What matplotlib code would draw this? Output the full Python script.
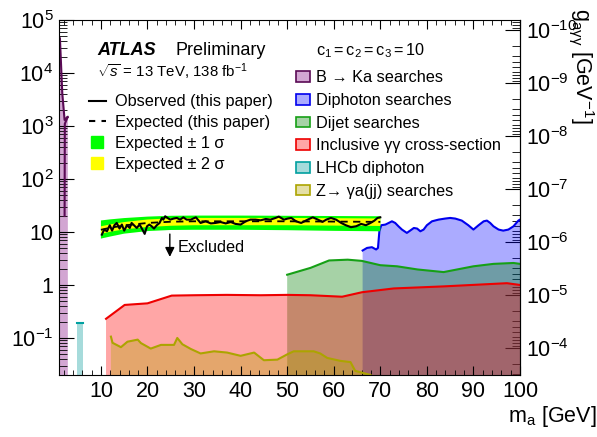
import matplotlib
matplotlib.use('Agg')
import matplotlib.pyplot as plt
from matplotlib.lines import Line2D
from matplotlib.patches import Patch
from matplotlib.ticker import FixedLocator, FixedFormatter, MultipleLocator, LogLocator

plt.rcParams['font.family'] = ['Liberation Sans', 'DejaVu Sans']
plt.rcParams['mathtext.fontset'] = 'custom'
plt.rcParams['mathtext.rm'] = 'Liberation Sans'
plt.rcParams['mathtext.it'] = 'Liberation Sans:italic'
plt.rcParams['mathtext.bf'] = 'Liberation Sans:bold'

# expected limit with +-1 / +-2 sigma bands (this paper)
m_band = [10, 12, 15, 20, 25, 30, 40, 50, 60, 70]
exp_lim = [11.0, 12.0, 13.3, 14.8, 15.6, 15.9, 15.9, 15.9, 15.7, 15.5]
band1_hi = [16.5, 17.3, 18.3, 19.5, 20.2, 20.4, 20.4, 20.2, 20.0, 19.8]
band1_lo = [7.5, 8.2, 9.3, 10.4, 10.9, 11.0, 11.0, 10.8, 10.5, 10.3]
band2_hi = [12.8, 13.9, 15.4, 17.2, 18.1, 18.4, 18.4, 18.4, 18.2, 18.0]
band2_lo = [9.2, 10.1, 11.2, 12.4, 13.1, 13.4, 13.4, 13.4, 13.2, 13.0]

# observed limit (this paper)
m_obs = [10.2, 10.7, 11.3, 11.9, 12.4, 12.9, 13.4, 14.0, 14.5, 15.0,
         15.6, 16.2, 16.6, 17.1, 17.7, 18.3, 18.8, 19.4, 19.9, 20.4,
         20.9, 21.4, 22.0, 22.6, 23.1, 23.4, 23.8, 24.3, 24.9, 25.6,
         26.3, 27.0, 27.7, 28.4,
         29.3, 30.4, 31.4, 32.5, 33.6, 34.6, 35.7, 36.8, 37.9, 38.9,
         40.0, 41.1, 42.1, 43.2, 44.3, 45.4, 46.4, 47.5, 48.2, 49.3,
         50.1, 50.9, 51.9, 53.0, 53.7, 54.4, 55.5, 56.6, 57.6, 58.4,
         59.4, 60.5, 61.6, 62.6, 63.7, 64.8, 65.9, 66.9, 67.9, 68.7,
         69.4, 70.0]
obs_lim = [8.9, 11.1, 10.3, 13.4, 10.6, 13.4, 14.8, 11.6, 13.8, 10.6,
           13.4, 11.9, 14.8, 13.4, 11.9, 13.8, 11.6, 9.2, 12.8, 13.8,
           12.8, 11.6, 13.4, 14.8, 18.4, 17.1, 19.8, 18.4, 17.1, 17.9,
           18.4, 17.1, 18.9, 17.1,
           17.1, 18.9, 14.8, 15.9, 14.5, 14.8, 15.4, 14.5, 15.4, 14.2,
           13.8, 15.9, 17.1, 17.1, 16.6, 17.6, 17.1, 18.4, 19.5, 17.1,
           17.9, 18.4, 15.9, 14.8, 15.9, 17.1, 18.9, 17.1, 15.5, 17.1,
           18.4, 17.1, 14.8, 13.4, 12.3, 12.8, 14.2, 13.4, 14.8, 16.3,
           18.4, 18.9]

# other searches
bka_m = [1.0, 1.2, 1.7, 2.2, 2.9]
bka_lim = [4.5e4, 4.5e4, 4.2e3, 1.3e3, 1.5e3]
bka_line_m = [1.2, 1.7, 2.2, 2.9, 2.25, 2.2]
bka_line_lim = [4.5e4, 4.2e3, 1.3e3, 1.5e3, 1.1e3, 20]

lhcb_m = [4.8, 6.2]
lhcb_lim = [0.19, 0.19]

dipho_m = [66.2, 67.15, 68.2, 69.1, 69.5, 69.8, 70.2, 71.1, 71.8, 72.5,
           73.2, 73.9, 74.65, 75.7, 76.4, 77.2, 77.9, 78.6, 79.3, 80.0,
           81.1, 82.5, 83.9, 85.0, 86.1, 87.5, 88.9, 90.0, 91.1, 92.2,
           92.9, 93.6, 94.3, 95.4, 96.4, 97.5, 98.6, 99.65, 100]
dipho_lim = [4.47, 5.0, 5.16, 4.67, 5.0, 10.3, 13.4, 13.8, 14.8, 15.9,
             14.8, 12.8, 11.1, 9.6, 10.6, 11.9, 11.6, 10.3, 11.1, 13.4,
             15.9, 17.1, 17.9, 18.4, 17.9, 16.4, 13.4, 11.1, 13.4, 15.9,
             16.4, 14.8, 12.8, 11.1, 10.6, 11.1, 12.8, 16.4, 17.1]

dijet_m = [50, 55, 59, 63, 66, 70, 73.6, 78, 83.6, 90, 94.3, 98.6, 100]
dijet_lim = [1.56, 2.1, 2.9, 3.0, 2.85, 2.36, 2.25, 1.96, 1.75, 2.25, 2.5, 2.6, 2.5]

incl_m = [11.1, 15.1, 20, 25.2, 30, 37, 44.3, 50, 55, 61.8, 66.1, 72.9, 83.6, 97.2, 100]
incl_lim = [0.23, 0.42, 0.45, 0.63, 0.64, 0.65, 0.64, 0.65, 0.64, 0.6, 0.73, 0.86, 0.94, 1.08, 1.0]

zga_m = [12.15, 12.5, 14.3, 15.7, 17.9, 18.6, 20.7, 22.9, 25.7, 26.4,
         27.5, 29.3, 31.4, 34.3, 37.1, 40, 42.9, 45, 47.9, 50,
         51.4, 55.7, 57.1, 58.6, 61.4, 63.6, 64.6, 67.9]
zga_lim = [0.106, 0.081, 0.067, 0.085, 0.093, 0.08, 0.063, 0.074, 0.074, 0.1,
           0.076, 0.062, 0.051, 0.056, 0.053, 0.046, 0.053, 0.038, 0.039, 0.049,
           0.056, 0.056, 0.051, 0.042, 0.037, 0.035, 0.024, 0.02]

y_ticks = [0.1, 1, 10, 100, 1e3, 1e4, 1e5]
y_ticklabels = [r'$10^{-1}$', '1', '10', r'$10^{2}$', r'$10^{3}$', r'$10^{4}$', r'$10^{5}$']

# conversion between left axis and coupling on the right axis
G_SCALE = 6.37e-6

c_bka = ((0.5, 0.0, 0.5, 0.35), '#5a0a55')
c_lhcb = ((0.0, 0.6, 0.6, 0.35), '#00a0a0')
c_dipho = ((0.0, 0.0, 1.0, 0.33), '#0000ee')
c_dijet = ((0.0, 0.5, 0.0, 0.35), '#16a016')
c_incl = ((1.0, 0.0, 0.0, 0.35), '#ee0000')
c_zga = ((0.7, 0.65, 0.0, 0.35), '#aca400')

floor = 1e-3
TICK_FS = 15.5
LEG_FS = 11.7

fig = plt.figure(figsize=(5.97, 4.37), dpi=100)
ax = fig.add_axes([59/597, 62/437, 461/597, 355/437])

ax.fill_between(bka_m, floor, bka_lim, facecolor=c_bka[0], lw=0)
ax.plot(bka_line_m, bka_line_lim, color=c_bka[1], lw=1.5)

ax.fill_between(lhcb_m, floor, lhcb_lim, facecolor=c_lhcb[0], lw=0)
ax.plot(lhcb_m, lhcb_lim, color=c_lhcb[1], lw=1.5)

ax.fill_between(dipho_m, floor, dipho_lim, facecolor=c_dipho[0], lw=0)
ax.plot(dipho_m, dipho_lim, color=c_dipho[1], lw=1.5)

ax.fill_between(dijet_m, floor, dijet_lim, facecolor=c_dijet[0], lw=0)
ax.plot(dijet_m, dijet_lim, color=c_dijet[1], lw=1.5)

ax.fill_between(incl_m, floor, incl_lim, facecolor=c_incl[0], lw=0)
ax.plot(incl_m, incl_lim, color=c_incl[1], lw=1.5)

ax.fill_between(zga_m, floor, zga_lim, facecolor=c_zga[0], lw=0)
ax.plot(zga_m, zga_lim, color=c_zga[1], lw=1.5)

# this paper
ax.fill_between(m_band, band1_lo, band1_hi, facecolor='#00ff00', lw=0, zorder=3)
ax.fill_between(m_band, band2_lo, band2_hi, facecolor='#ffff00', lw=0, zorder=3)
ax.plot(m_band, exp_lim, color='k', ls=(0, (4, 3)), lw=1.3, zorder=4)
ax.plot(m_obs, obs_lim, color='k', lw=1.5, zorder=5)

ax.annotate('', xy=(24.8, 3.0), xytext=(24.8, 10.3),
            arrowprops=dict(arrowstyle='-|>', color='k', lw=1.0, mutation_scale=14))
ax.text(26.5, 5.1, 'Excluded', fontsize=LEG_FS, va='center', ha='left')

ax.set_yscale('log')
ax.set_xlim(1, 100)
ax.set_ylim(0.02, 1e5)

ax.xaxis.set_major_locator(MultipleLocator(10))
ax.xaxis.set_minor_locator(MultipleLocator(2))
ax.yaxis.set_major_locator(FixedLocator(y_ticks))
ax.yaxis.set_major_formatter(FixedFormatter(y_ticklabels))
ax.yaxis.set_minor_locator(LogLocator(base=10, subs=range(2, 10)))
ax.tick_params(axis='both', which='both', direction='in', top=True, right=False,
               labelsize=TICK_FS)
ax.tick_params(axis='x', which='major', length=6.5, pad=4)
ax.tick_params(axis='x', which='minor', length=3.6)
ax.tick_params(axis='y', which='major', length=10.8, pad=4)
ax.tick_params(axis='y', which='minor', length=5.8)

sec = ax.secondary_yaxis('right', functions=(lambda f: G_SCALE / f, lambda g: G_SCALE / g))
sec.tick_params(axis='y', which='both', direction='in', labelsize=TICK_FS)
sec.tick_params(axis='y', which='major', length=10.8, pad=4)
sec.tick_params(axis='y', which='minor', length=5.8)

# right-hand title, reading downwards from the top corner
ax.text(1.134, 1.035, r'$\mathregular{g_{a\gamma\gamma}}$ [GeV$^{\mathregular{-1}}$]',
        transform=ax.transAxes, fontsize=TICK_FS, rotation=270,
        rotation_mode='anchor', ha='left', va='center')

ax.set_xlabel(r'$\mathregular{m_a}$ [GeV]', fontsize=TICK_FS, ha='right', va='center')
ax.xaxis.set_label_coords(1.165, -0.118)

ax.text(0.083, 0.901, 'ATLAS', transform=ax.transAxes, fontsize=13,
        fontweight='bold', fontstyle='italic', va='baseline')
ax.text(0.252, 0.901, 'Preliminary', transform=ax.transAxes, fontsize=13, va='baseline')
ax.text(0.083, 0.840, r'$\sqrt{s}$ = 13 TeV, 138 fb$^{\mathregular{-1}}$',
        transform=ax.transAxes, fontsize=10.8, va='baseline')
ax.text(0.5575, 0.901, r'$\mathregular{c_1 = c_2 = c_3 = 10}$', transform=ax.transAxes,
        fontsize=LEG_FS, va='baseline')

left_handles = [
    Line2D([], [], color='k', lw=1.5),
    Line2D([], [], color='k', lw=1.5, ls=(0, (3, 3))),
    Line2D([], [], color='#00ff00', marker='s', ls='none', markersize=8.5),
    Line2D([], [], color='#ffff00', marker='s', ls='none', markersize=8.5),
]
left_labels = ['Observed (this paper)', 'Expected (this paper)',
               'Expected ± 1 σ', 'Expected ± 2 σ']
leg1 = ax.legend(left_handles, left_labels, loc='upper left', bbox_to_anchor=(0.065, 0.791),
                 frameon=False, fontsize=LEG_FS, borderpad=0, borderaxespad=0,
                 handlelength=1.05, handletextpad=0.55, labelspacing=0.36)
ax.add_artist(leg1)

right_handles = [Patch(facecolor=c[0], edgecolor=c[1], lw=1.2)
                 for c in (c_bka, c_dipho, c_dijet, c_incl, c_lhcb, c_zga)]
right_labels = ['B → Ka searches', 'Diphoton searches', 'Dijet searches',
                'Inclusive γγ cross-section', 'LHCb diphoton', 'Z→ γa(jj) searches']
ax.legend(right_handles, right_labels, loc='upper left', bbox_to_anchor=(0.514, 0.858),
          frameon=False, fontsize=LEG_FS, borderpad=0, borderaxespad=0,
          handlelength=0.86, handleheight=0.62, handletextpad=0.37, labelspacing=0.47)

fig.savefig('out.png', dpi=100)
